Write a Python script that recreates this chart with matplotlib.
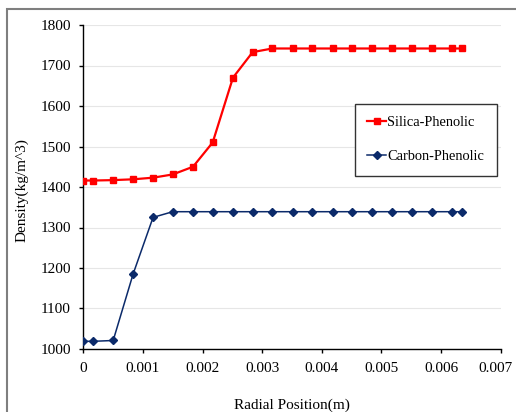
import numpy as np
import matplotlib.pyplot as plt
import matplotlib.transforms as mtransforms
from matplotlib.patches import Rectangle

plt.rcParams['font.family'] = ['Liberation Serif', 'DejaVu Serif']

# Radial position (m) for both series
radial_pos = [0, 0.000167, 0.000501, 0.000835, 0.00117, 0.0015, 0.00184,
              0.00217, 0.00251, 0.00284, 0.00317, 0.00351, 0.00384, 0.00418,
              0.00451, 0.00484, 0.00518, 0.00551, 0.00585, 0.00618, 0.00635]

# Density (kg/m^3)
silica = [1416, 1416, 1417, 1419, 1423, 1431, 1450, 1510, 1670, 1733, 1742,
          1742, 1742, 1742, 1742, 1742, 1742, 1742, 1742, 1742, 1742]
carbon = [1019, 1019, 1021, 1185, 1325, 1339, 1339, 1339, 1339, 1339, 1339,
          1339, 1339, 1339, 1339, 1339, 1339, 1339, 1339, 1339, 1339]

x_ticks = [0, 0.001, 0.002, 0.003, 0.004, 0.005, 0.006, 0.007]
x_labels = ['0', '0.001', '0.002', '0.003', '0.004', '0.005', '0.006', '0.007']
y_ticks = [1000, 1100, 1200, 1300, 1400, 1500, 1600, 1700, 1800]

W, H = 516, 412
fig = plt.figure(figsize=(W / 100, H / 100), dpi=100)
ax = fig.add_axes([83.3 / W, 1 - 349 / H, (500.7 - 83.3) / W, (349 - 25) / H])

# outer frame around the whole chart
fig.patches.append(Rectangle((7 / W, -0.1), 1.2, 1 - 9 / H + 0.1, transform=fig.transFigure,
                             fill=False, edgecolor='#7f7f7f', linewidth=1.5, clip_on=False))

ax.plot(radial_pos, silica, color='#ff0000', lw=1.6, marker='s', ms=4.2,
        label='Silica-Phenolic', zorder=3)
ax.plot(radial_pos, carbon, color='#0b2a6a', lw=1.1, marker='D', ms=4,
        label='Carbon-Phenolic', zorder=3)

ax.set_xlim(0, 0.007)
ax.set_ylim(1000, 1800)
ax.set_xticks(x_ticks)
ax.set_xticklabels(x_labels)
ax.set_yticks(y_ticks)
ax.tick_params(labelsize=11, length=3, width=1, direction='out', pad=6)
ax.grid(axis='y', color='#e6e6e6', lw=0.8)
ax.set_axisbelow(True)
for s in ['top', 'right']:
    ax.spines[s].set_visible(False)
ax.spines['left'].set_linewidth(1)
ax.spines['bottom'].set_linewidth(1)

# last x label sits a little inside the edge, like the original
last = ax.get_xticklabels()[-1]
last.set_transform(last.get_transform() +
                   mtransforms.ScaledTranslation(-5 / 100, 0, fig.dpi_scale_trans))

fig.text(292 / W, 1 - 405 / H, 'Radial Position(m)', ha='center', va='center', fontsize=11)
fig.text(22 / W, 1 - 190 / H, 'Density(kg/m^3)', ha='center', va='center',
         rotation=90, fontsize=11)

leg = ax.legend(loc='upper left', bbox_to_anchor=(355 / W, 1 - 104 / H),
                bbox_transform=fig.transFigure, borderaxespad=0, fontsize=10.4,
                fancybox=False, edgecolor='#333333', framealpha=1,
                labelspacing=1.45, handlelength=1.3, handletextpad=0.1,
                borderpad=0.85)
leg.get_frame().set_linewidth(1)

fig.savefig('out.png', dpi=100)
